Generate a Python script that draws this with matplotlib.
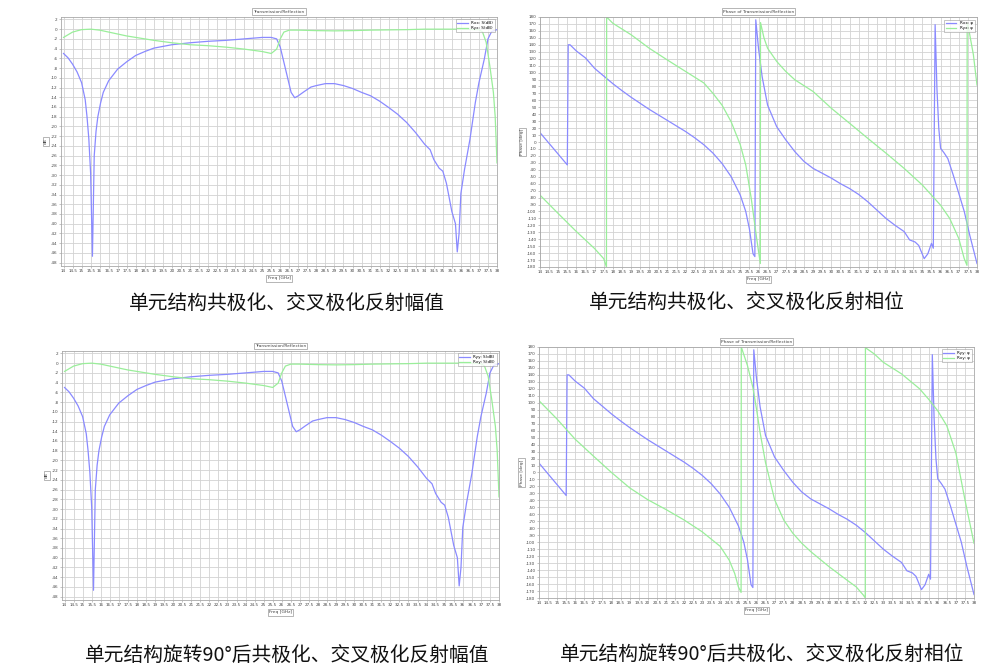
import numpy as np
import matplotlib
matplotlib.use("Agg")
import matplotlib.pyplot as plt

W, H = 1007, 672

# ---------------- data ----------------
mag_blue_f = [14, 14.25, 14.5, 14.75, 15, 15.2, 15.3, 15.4, 15.5, 15.6, 15.7, 15.8, 15.9, 16.05, 16.2, 16.5, 17,
              17.5, 18, 18.5, 19, 20, 21, 22, 23, 24,
              25, 25.5, 25.8, 26, 26.2, 26.4, 26.6, 26.8, 27.0, 27.3, 27.7, 28, 28.5, 29, 29.5, 30, 30.5, 31, 31.5,
              32, 32.5, 33, 33.5, 34, 34.3, 34.5, 34.8, 35, 35.2, 35.5, 35.7, 35.8, 35.9, 36.0, 36.2, 36.5, 36.8,
              37.0, 37.3, 37.5, 37.7, 38]
mag_blue_db = [-5.0, -5.9, -7.2, -8.8, -11.0, -14.5, -18.0, -22.5, -29.6, -46.7, -26.0, -21.0, -18.0, -15.2, -13.0,
               -10.6, -8.2, -6.7, -5.4, -4.6, -3.9,
               -3.2, -2.8, -2.5, -2.3, -2.0, -1.7, -1.7, -2.0, -3.7, -6.8, -9.9, -13.0, -14.1, -13.7, -12.9, -11.9,
               -11.6, -11.2, -11.2, -11.6, -12.2, -13.0, -13.7, -14.8, -16.1, -17.5, -19.2, -21.3, -23.7, -24.8,
               -26.8, -28.6, -29.2, -31.7, -37.5, -40.0, -45.8, -42.0, -33.8, -28.9, -22.7, -15.1, -11.0, -6.1,
               -2.0, -0.5, -0.1]

mag_green_f = [14, 14.5, 15, 15.5, 16, 16.5, 17, 17.5, 18, 18.5, 19, 20, 21, 22, 23, 24, 25, 25.5, 25.8, 26, 26.2,
               26.5, 27, 28, 29, 30, 31, 32, 33, 34, 35, 36, 37, 37.2, 37.4, 37.6, 37.8, 37.9, 38]
mag_green_db = [-1.7, -0.6, -0.1, 0.0, -0.2, -0.6, -1.0, -1.4, -1.7, -2.0, -2.3, -2.8, -3.2, -3.4, -3.7, -4.1, -4.6,
                -5.0, -4.1, -2.0, -0.6, -0.2, -0.2, -0.3, -0.35, -0.3, -0.2, -0.15, -0.1, 0.0, 0.0, 0.0, -0.1,
                -0.6, -2.7, -7.5, -13.0, -18.0, -27.5]

ph_blue_f = [14, 15.5, 15.55, 15.65, 16, 16.5, 17, 17.5, 18, 18.5, 19, 20, 21, 22, 22.5, 23, 23.5, 24, 24.5, 25,
             25.3, 25.5, 25.7, 25.8, 25.85, 26.0, 26.2, 26.5, 27, 27.5, 28, 28.5, 29, 29.5, 30, 30.5, 31, 31.5,
             32, 32.5, 33, 33.5, 34, 34.3, 34.6, 34.8, 35.1, 35.3, 35.5, 35.6, 35.7, 35.8, 35.9, 36.0, 36.2,
             36.4, 36.7, 37, 37.3, 37.6, 38]
ph_blue_deg = [13.5, -33, 140, 140, 131, 121, 106, 95, 84, 74, 64.5, 47, 31, 15, 6, -4, -16, -31, -50, -76.5,
               -100, -125, -161, -165, 176, 135, 94, 53, 22, 3, -14, -28, -38, -45, -52, -60, -67, -75.5, -86,
               -98, -110, -120, -129, -141, -144, -149, -168, -161, -146, -153, 169, 77, 20, -9, -16, -24, -48,
               -74, -100, -134, -175]

ph_green1_f = [14, 15, 16, 17, 17.5, 17.65, 17.66, 18, 19, 20, 21, 22, 23, 23.5, 24, 24.5, 25, 25.3, 25.6, 25.9,
               26.1, 26.11, 26.3, 26.5, 27, 27.5, 28, 29, 30, 31, 32, 33, 34, 35, 35.5, 36, 36.5, 37, 37.3,
               37.45, 37.46, 37.5, 37.8, 38]
ph_green1_deg = [-76.5, -103, -129, -153.5, -168, -180, 180, 171, 154.5, 135, 118, 101.5, 85, 70, 53, 29, -4, -33,
                 -81, -139, -175, 172, 150, 135, 116, 101.5, 89.5, 72.7, 48.6, 27, 5.3, -16, -38, -62, -76.5,
                 -91, -110, -139, -168, -177.6, 171, 169, 126, 82]

ph_green2_f = [14, 15, 15.5, 16, 17, 18, 19, 20, 21, 22, 23, 24, 24.5, 24.8, 25.0, 25.15, 25.16, 25.5, 25.8, 26,
               26.2, 26.5, 27, 27.5, 28, 28.5, 29, 30, 31, 31.5, 31.9, 32, 32.01, 32.5, 33, 34, 35, 35.5, 36,
               36.5, 37, 37.5, 38]
ph_green2_deg = [103, 76.5, 62, 47.6, 23.6, 0, -22, -39, -53, -68, -85, -106, -126, -145, -164, -172, 180, 153.5,
                 122, 91, 57, 14, -39, -68, -87, -101.5, -113.6, -135, -154.5, -164, -176, -180, 179, 170, 158,
                 141.5, 120, 105, 88.5, 67, 28, -39, -101.5]

freq_ticks = [14 + 0.5 * i for i in range(49)]
mag_ticks = list(range(2, -49, -2))
ph_ticks = list(range(180, -181, -10))

captions = ["单元结构共极化、交叉极化反射幅值",
            "单元结构共极化、交叉极化反射相位",
            "单元结构旋转90°后共极化、交叉极化反射幅值",
            "单元结构旋转90°后共极化、交叉极化反射相位"]

BLUE = "#8a8aff"
GREEN = "#9aee9a"
TICKFS = 3.0

fig = plt.figure(figsize=(W / 100, H / 100), dpi=100)
fig.patch.set_facecolor("white")


def px_axes(left, top, right, bottom):
    return fig.add_axes([left / W, 1 - bottom / H, (right - left) / W, (bottom - top) / H])


def fmt(v):
    return str(int(v)) if float(v).is_integer() else str(v)


def style(ax, title, ylabel, yticks, ylim, xlim, labels):
    ax.set_xlim(*xlim)
    ax.set_ylim(*ylim)
    ax.set_xticks(freq_ticks)
    ax.set_xticklabels([fmt(v) for v in freq_ticks], fontsize=TICKFS, color="#444444")
    ax.set_yticks(yticks)
    ax.set_yticklabels([str(v) for v in yticks], fontsize=TICKFS, color="#444444")
    ax.tick_params(length=1.5, width=0.4, pad=1, colors="#999999", labelcolor="#444444")
    ax.grid(True, color="#d2d2d2", linewidth=0.6)
    ax.set_axisbelow(True)
    for s in ax.spines.values():
        s.set_color("#a8a8a8")
        s.set_linewidth(0.6)
    box = dict(boxstyle="square,pad=0.3", fc="white", ec="#999999", lw=0.5)
    ax.set_title(title, fontsize=3.2, pad=3, bbox=box, color="#444444")
    ax.set_xlabel("Freq [GHz]", fontsize=3.2, labelpad=2, bbox=box, color="#444444")
    ax.set_ylabel(ylabel, fontsize=3.2, labelpad=2, bbox=box, color="#444444")
    leg = ax.legend(labels, loc="upper right", fontsize=3.0, frameon=True, fancybox=False,
                    borderpad=0.4, handlelength=2.5, labelspacing=0.2, borderaxespad=0.6)
    leg.get_frame().set_edgecolor("#999999")
    leg.get_frame().set_linewidth(0.5)


# Top-left: magnitude
ax1 = px_axes(61, 17, 497, 266)
ax1.plot(mag_blue_f, mag_blue_db, color=BLUE, lw=0.9)
ax1.plot(mag_green_f, mag_green_db, color=GREEN, lw=0.9)
style(ax1, "Transmission/Reflection", "dB", mag_ticks, (-48.7, 2.5), (13.86, 38),
      ["Rxx: S(dB)", "Ryx: S(dB)"])

# Top-right: phase
ax2 = px_axes(540, 17, 977, 267)
ax2.plot(ph_blue_f, ph_blue_deg, color=BLUE, lw=0.9)
ax2.plot(ph_green1_f, ph_green1_deg, color=GREEN, lw=0.9)
style(ax2, "Phase of Transmission/Reflection", "Phase [deg]", ph_ticks, (-180, 180), (14, 38),
      ["Rxx: φ", "Ryx: φ"])

# Bottom-left: magnitude (rotated)
ax3 = px_axes(62, 351, 499, 600)
ax3.plot(mag_blue_f, mag_blue_db, color=BLUE, lw=0.9)
ax3.plot(mag_green_f, mag_green_db, color=GREEN, lw=0.9)
style(ax3, "Transmission/Reflection", "dB", mag_ticks, (-48.7, 2.5), (13.86, 38),
      ["Ryy: S(dB)", "Rxy: S(dB)"])

# Bottom-right: phase (rotated)
ax4 = px_axes(539, 347, 974, 598)
ax4.plot(ph_blue_f, ph_blue_deg, color=BLUE, lw=0.9)
ax4.plot(ph_green2_f, ph_green2_deg, color=GREEN, lw=0.9)
style(ax4, "Phase of Transmission/Reflection", "Phase [deg]", ph_ticks, (-180, 180), (14, 38),
      ["Ryy: φ", "Rxy: φ"])

cap_font = ["Noto Sans CJK SC", "DejaVu Sans"]
cap_pos = [(287, 303), (747, 303), (287, 655), (762, 655)]
for (cx, cy), txt in zip(cap_pos, captions):
    fig.text(cx / W, 1 - cy / H, txt, ha="center", va="center", fontsize=14.2,
             family=cap_font, color="#111111")

fig.savefig("out.png", dpi=100, facecolor="white")
